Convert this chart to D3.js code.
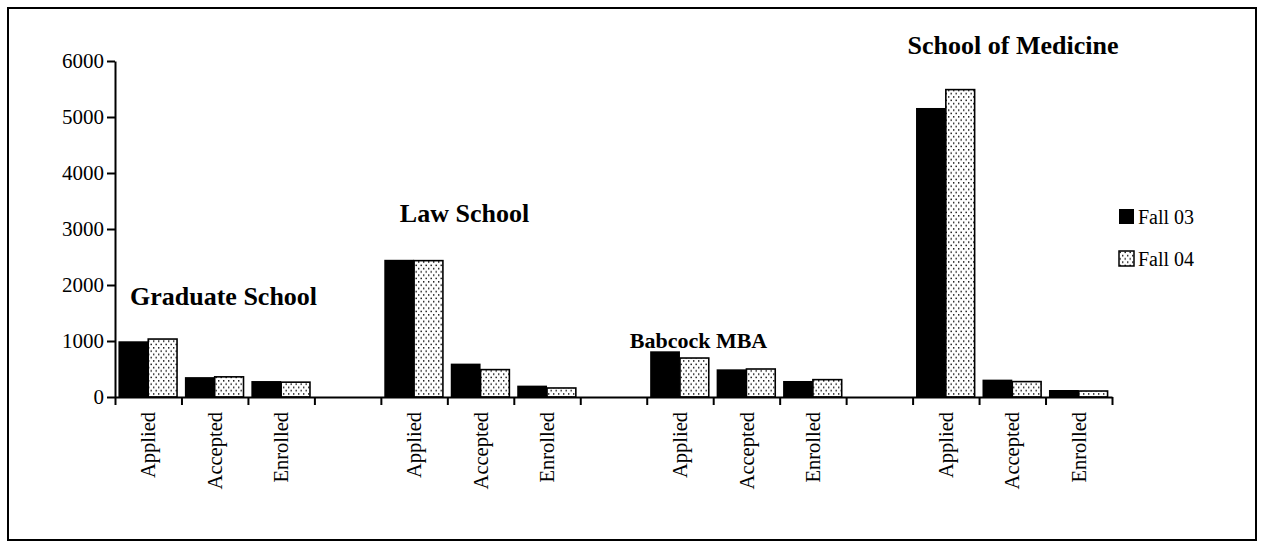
<!DOCTYPE html>
<html>
<head>
<meta charset="utf-8">
<script src="https://cdn.jsdelivr.net/npm/d3@7"></script>
<style>
  html, body { margin: 0; padding: 0; background: #fff; }
  svg { display: block; }
  text { font-family: "Liberation Serif", "Times New Roman", serif; fill: #000; }
</style>
</head>
<body>
<svg id="chart" width="1261" height="548"></svg>
<script>
// ---- data ----
const schools = ["Graduate School", "Law School", "Babcock MBA", "School of Medicine"];
const stages = ["Applied", "Accepted", "Enrolled"];
const seriesNames = ["Fall 03", "Fall 04"];
const fall03 = [995, 355, 285, 2450, 596, 203, 816, 494, 286, 5161, 310, 125];
const fall04 = [1035, 360, 265, 2435, 489, 161, 696, 500, 310, 5489, 275, 107];
const yTicks = [0, 1000, 2000, 3000, 4000, 5000, 6000];

// ---- layout ----
const plot = { left: 115, right: 1112, top: 61, bottom: 397 };

const svg = d3.select("#chart");

// pattern
const defs = svg.append("defs");
const pat = defs.append("pattern")
  .attr("id", "dots").attr("patternUnits", "userSpaceOnUse")
  .attr("width", 5).attr("height", 6.6);
pat.append("rect").attr("width", 5).attr("height", 6.6).attr("fill", "#fff");
pat.append("rect").attr("x", 0.5).attr("y", 0.6).attr("width", 1.4).attr("height", 1.4).attr("fill", "#000");
pat.append("rect").attr("x", 3).attr("y", 3.9).attr("width", 1.4).attr("height", 1.4).attr("fill", "#000");

// border
svg.append("rect").attr("x", 8).attr("y", 8).attr("width", 1248).attr("height", 532)
  .attr("fill", "none").attr("stroke", "#000").attr("stroke-width", 2);

// slots: each school has 3 stages, followed by a gap slot (except last)
const slots = [];
schools.forEach((s, si) => {
  stages.forEach(st => slots.push({ key: s + "|" + st, school: s, stage: st }));
  if (si < schools.length - 1) slots.push({ key: s + "|gap", school: s, stage: null });
});

const x = d3.scaleBand().domain(slots.map(d => d.key)).range([plot.left, plot.right]).paddingInner(0).paddingOuter(0);
const xIdx = d3.scaleLinear().domain([0, slots.length]).range([plot.left, plot.right]);
const y = d3.scaleLinear().domain([0, 6000]).range([plot.bottom, plot.top]);

const cats = slots.filter(d => d.stage);
const rows = cats.map((c, i) => ({ ...c, v03: fall03[i], v04: fall04[i] }));

const inner = d3.scaleBand().domain(seriesNames).range([0, x.bandwidth()]).paddingOuter(0.115).paddingInner(0);

// bars
const g = svg.append("g");
rows.forEach(r => {
  g.append("rect")
    .attr("x", x(r.key) + inner("Fall 03"))
    .attr("y", y(r.v03))
    .attr("width", inner.bandwidth())
    .attr("height", y(0) - y(r.v03))
    .attr("fill", "#000");
  g.append("rect")
    .attr("x", x(r.key) + inner("Fall 04"))
    .attr("y", y(r.v04))
    .attr("width", inner.bandwidth() - 1)
    .attr("height", y(0) - y(r.v04))
    .attr("fill", "url(#dots)")
    .attr("stroke", "#000").attr("stroke-width", 1.6);
});

// y axis
const yAxis = svg.append("g").attr("transform", `translate(${plot.left},0)`)
  .call(d3.axisLeft(y).tickValues(yTicks).tickFormat(d3.format("d")).tickSizeInner(8).tickSizeOuter(0).tickPadding(3));
yAxis.selectAll("path.domain").attr("stroke", "#000").attr("stroke-width", 2);
yAxis.selectAll(".tick line").attr("stroke", "#000").attr("stroke-width", 2);
yAxis.selectAll("text").style("font-size", "21px").style("font-family", "Liberation Serif");

// x axis with boundary ticks
const xAxis = svg.append("g").attr("transform", `translate(0,${plot.bottom})`)
  .call(d3.axisBottom(xIdx).tickValues(d3.range(slots.length + 1)).tickFormat("").tickSizeInner(8).tickSizeOuter(0));
xAxis.selectAll("path.domain").attr("stroke", "#000").attr("stroke-width", 2);
xAxis.selectAll(".tick line").attr("stroke", "#000").attr("stroke-width", 2);

// category labels (rotated)
svg.append("g").selectAll("text").data(cats).join("text")
  .attr("transform", d => `translate(${x(d.key) + x.bandwidth() / 2},${plot.bottom + 15}) rotate(-90)`)
  .attr("text-anchor", "end")
  .attr("dy", "0.35em")
  .style("font-size", "20.5px")
  .text(d => d.stage);

// school annotations (offsets in pixels from first slot of each school)
const annot = [
  { dx: 15, y: 305, size: 26 },
  { dx: 19, y: 222, size: 26 },
  { dx: -17, y: 348, size: 22 },
  { dx: -5, y: 54, size: 26 }
];
svg.append("g").selectAll("text").data(schools).join("text")
  .attr("x", (d, i) => x(d + "|Applied") + annot[i].dx)
  .attr("y", (d, i) => annot[i].y)
  .style("font-size", (d, i) => annot[i].size + "px").style("font-weight", "bold")
  .text(d => d);

// legend
const lg = svg.append("g").attr("transform", "translate(1119,209)");
seriesNames.forEach((s, i) => {
  const row = lg.append("g").attr("transform", `translate(0,${i * 42})`);
  row.append("rect").attr("x", 0).attr("y", 0).attr("width", 15).attr("height", 15)
    .attr("fill", i === 0 ? "#000" : "url(#dots)")
    .attr("stroke", "#000").attr("stroke-width", i === 0 ? 0 : 1.5);
  row.append("text").attr("x", 19).attr("y", 8).attr("dy", "0.35em")
    .style("font-size", "20px").text(s);
});
</script>
</body>
</html>
